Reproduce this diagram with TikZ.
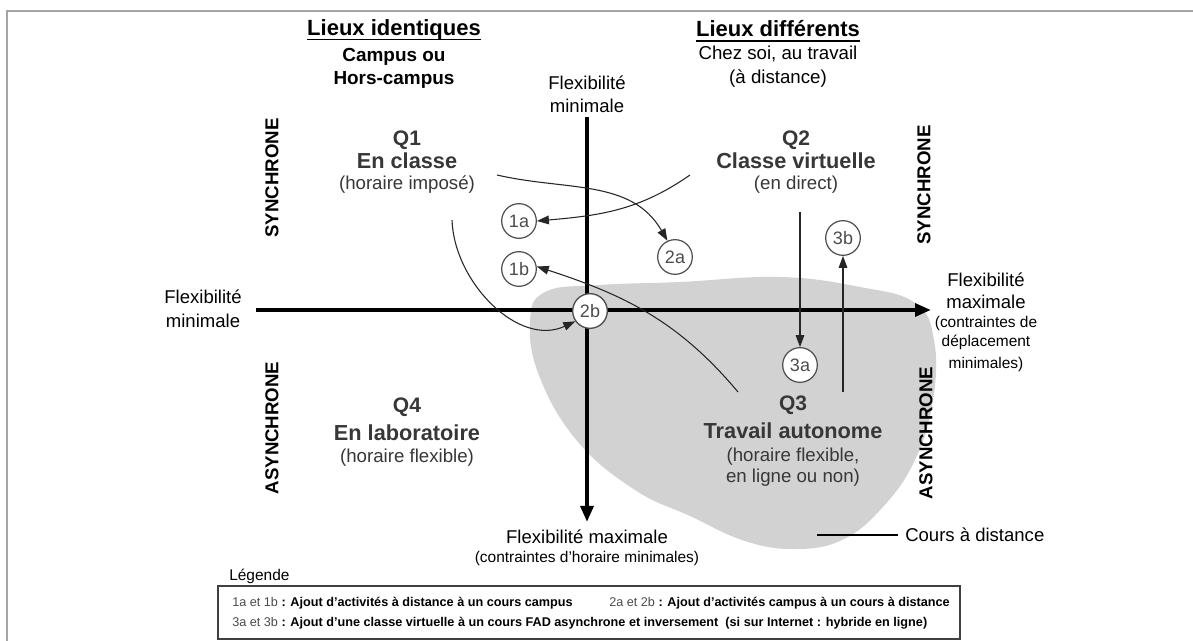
\documentclass[tikz,border=0pt]{standalone}
\usepackage{fontspec}
\setmainfont{Liberation Sans}
\usetikzlibrary{arrows.meta}
\newcommand{\fsz}[1]{\fontsize{#1pt}{#1pt}\selectfont}
\definecolor{blobgray}{RGB}{210,210,210}
\definecolor{framegray}{RGB}{165,165,165}
\definecolor{qgray}{RGB}{55,55,55}
\tikzset{
  txt/.style={inner sep=0pt, anchor=center},
  headb/.style={txt, font=\bfseries\fsz{16.5}},
  subb/.style={txt, font=\bfseries\fsz{14.2}},
  subr/.style={txt, font=\fsz{14}},
  flex/.style={txt, font=\fsz{13.9}},
  small/.style={txt, font=\fsz{11.6}},
  qnum/.style={txt, text=qgray, font=\bfseries\fsz{15.75}},
  qname/.style={txt, text=qgray, font=\bfseries\fsz{16.3}},
  qsub/.style={txt, text=qgray, font=\fsz{14}},
  side/.style={txt, rotate=90, font=\bfseries\fsz{14}},
  num/.style={circle, draw=black!70, line width=0.9pt, fill=white, minimum size=26pt, inner sep=0pt, text=black!70, font=\fsz{13.5}},
  axis/.style={line width=3pt, -{Triangle[length=12pt,width=9.5pt]}},
  conn/.style={line width=0.8pt, black!85, -{Triangle[length=9pt,width=6.5pt]}},
  legtxt/.style={inner sep=0pt, anchor=west, font=\fsz{9.5}},
}
\begin{document}
\begin{tikzpicture}[x=0.75pt,y=-0.75pt]
\useasboundingbox (0,0) rectangle (1193,641);
\fill[white] (0,0) rectangle (1193,641);
% frame
\draw[framegray, line width=1.5pt] (7,641) -- (7,11) -- (1193,11);

% distance-course blob
\fill[blobgray] plot[smooth cycle, tension=0.7] coordinates {
  (545,292) (600,285) (680,282) (780,277) (860,287) (915,303) (934,340)
  (933,400) (915,460) (882,508) (842,540) (795,549) (745,541) (690,516)
  (635,490) (578,442) (540,378) (530,322)};

% headings
\node[headb] (li) at (394,30) {Lieux identiques};
\draw[line width=1.1pt] ([yshift=-3pt]li.base west) -- ([yshift=-3pt]li.base east);
\node[subb] (camp1) at (394,57) {Campus ou};
\node[subb] (camp2) at (394,80) {Hors-campus};
\node[headb] (ld) at (778,29) {Lieux différents};
\draw[line width=1.1pt] ([yshift=-3pt]ld.base west) -- ([yshift=-3pt]ld.base east);
\node[subr] (chez1) at (778,54) {Chez soi, au travail};
\node[subr] (chez2) at (778,79) {(à distance)};

% axis labels
\node[flex] (ftop1) at (587,83) {Flexibilité};
\node[flex] (ftop2) at (587,106) {minimale};
\node[flex] (fl1) at (203,297) {Flexibilité};
\node[flex] (fl2) at (203,321) {minimale};
\node[flex] (fr1) at (986,280) {Flexibilité};
\node[flex] (fr2) at (986,302) {maximale};
\node[small] (fr3) at (986,323) {(contraintes de};
\node[small] (fr4) at (986,342) {déplacement};
\node[small] (fr5) at (986,364) {minimales)};
\node[flex] (fb1) at (587,537) {Flexibilité maximale};
\node[small] (fb2) at (587,558) {(contraintes d'horaire minimales)};

% side labels
\node[side] (syl) at (272,178) {SYNCHRONE};
\node[side] (syr) at (924,185) {SYNCHRONE};
\node[side] (asl) at (272,428) {ASYNCHRONE};
\node[side] (asr) at (926,433) {ASYNCHRONE};

% quadrants
\node[qnum] (q1) at (407,140) {Q1};
\node[qname] (q1n) at (407,161) {En classe};
\node[qsub] (q1s) at (407,185) {(horaire imposé)};
\node[qnum] (q2) at (796,140) {Q2};
\node[qname] (q2n) at (796,161) {Classe virtuelle};
\node[qsub] (q2s) at (796,185) {(en direct)};
\node[qnum] (q3) at (793,405) {Q3};
\node[qname] (q3n) at (793,431) {Travail autonome};
\node[qsub] (q3s) at (793,457) {(horaire flexible,};
\node[qsub] (q3t) at (793,478) {en ligne ou non)};
\node[qnum] (q4) at (407,407) {Q4};
\node[qname] (q4n) at (407,433) {En laboratoire};
\node[qsub] (q4s) at (407,458) {(horaire flexible)};

% axes
\coordinate (hL) at (256,310);
\coordinate (hR) at (931,310);
\coordinate (vT) at (587,117);
\coordinate (vB) at (587,522);
\draw[axis] (hL) -- (hR);
\draw[axis] (vT) -- (vB);

% numbered circles
\node[num] (n1a) at (519,221) {1a};
\node[num] (n1b) at (519,269) {1b};
\node[num] (n2a) at (675,257) {2a};
\node[num, line width=1pt] (n2b) at (590,311) {2b};
\node[num] (n3a) at (800,365) {3a};
\node[num] (n3b) at (843,238) {3b};

% connectors
\coordinate (s2a) at (497,175);
\coordinate (s1a) at (690,175);
\coordinate (s2b) at (452,220);
\coordinate (s1b) at (738,392);
\coordinate (s3a) at (800,212);
\coordinate (s3b) at (843,392);
\draw[conn] (s2a) to[out=-13,in=120] (n2a.115);
\draw[conn] (s1a) to[out=215,in=5] (n1a.east);
\draw[conn] (s2b) to[out=-88,in=205] (n2b.215);
\draw[conn] (s1b) to[out=130,in=-18] (n1b.8);
\draw[conn] (s3a) -- (n3a);
\draw[conn] (s3b) -- (n3b);

% distance course label
\coordinate (cl) at (817,535);
\node[txt, anchor=west, font=\fsz{13.9}] (cours) at (905,535) {Cours à distance};
\draw[line width=1.3pt] (cl) -- ([xshift=-5pt]cours.west);

% legend
\node[txt, anchor=west, font=\fsz{11.6}] (leg) at (229,576) {Légende};
\draw[black!75, line width=1pt] (218,586) rectangle (960,639);
\node[legtxt] (l1) at (232,603) {\textcolor{black!70}{1a et 1b} \textbf{: Ajout d'activités à distance à un cours campus}};
\node[legtxt] (l2) at (609,603) {\textcolor{black!70}{2a et 2b} \textbf{: Ajout d'activités campus à un cours à distance}};
\node[legtxt] (l3) at (232,623) {\textcolor{black!70}{3a et 3b} \textbf{: Ajout d'une classe virtuelle à un cours FAD asynchrone et inversement\ \ (si sur Internet : hybride en ligne)}};
\end{tikzpicture}
\end{document}
